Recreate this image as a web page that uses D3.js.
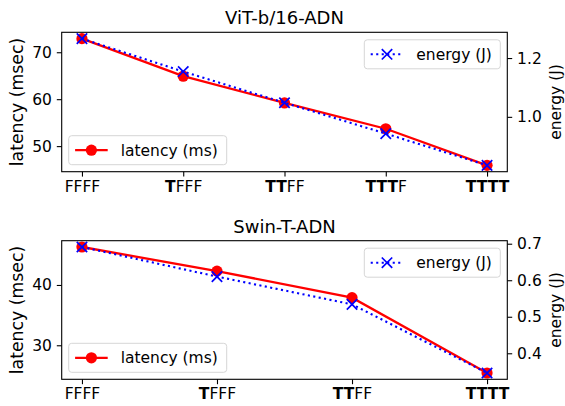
<!DOCTYPE html>
<html>
<head>
<meta charset="utf-8">
<script src="https://cdn.jsdelivr.net/npm/d3@7"></script>
<style>
  body { margin: 0; background: #fff; }
  text { font-family: "DejaVu Sans", sans-serif; fill: #000; }
</style>
</head>
<body>
<div id="chart"></div>
<script>
// data
var vitCats = ["FFFF", "TFFF", "TTFF", "TTTF", "TTTT"];
var vitLatency = [72.9, 64.9, 59.2, 53.7, 45.9];
var vitEnergy = [1.266, 1.154, 1.048, 0.943, 0.835];
var vitLatTicks = [50, 60, 70];
var vitEnergyTicks = [1.0, 1.2];

var swinCats = ["FFFF", "TFFF", "TTFF", "TTTT"];
var swinLatency = [46.3, 42.3, 37.9, 25.4];
var swinEnergy = [0.691, 0.610, 0.534, 0.346];
var swinLatTicks = [30, 40];
var swinEnergyTicks = [0.4, 0.5, 0.6, 0.7];

var W = 565, H = 406;
var tickFont = 15.5, titleFont = 18, labelFont = 17.3;

var svg = d3.select("#chart")
    .append("svg")
    .attr("width", W)
    .attr("height", H);

// matplotlib style 5% margins
function padded(vals) {
    var ext = d3.extent(vals);
    var m = (ext[1] - ext[0]) * 0.05;
    return [ext[0] - m, ext[1] + m];
}

function styleAxis(g) {
    g.select(".domain").remove();
    g.selectAll(".tick line").attr("stroke", "#000").attr("stroke-width", 1.1);
    g.selectAll(".tick text").style("font-size", tickFont + "px")
        .style("font-family", "DejaVu Sans, sans-serif").attr("fill", "#000");
}

function drawLegend(g, x, y, w, type, label) {
    var h = 29;
    g.append("rect")
        .attr("x", x).attr("y", y).attr("width", w).attr("height", h)
        .attr("rx", 3).attr("fill", "#fff").attr("fill-opacity", 0.8)
        .attr("stroke", "#d6d6d6").attr("stroke-width", 1);
    var cy = y + h / 2;
    var lx1 = x + 6.4, lx2 = x + 39, mx = (lx1 + lx2) / 2;
    if (type === "latency") {
        g.append("line").attr("x1", lx1).attr("x2", lx2).attr("y1", cy).attr("y2", cy)
            .attr("stroke", "red").attr("stroke-width", 2.3);
        g.append("circle").attr("cx", mx).attr("cy", cy).attr("r", 5.6).attr("fill", "red");
    } else {
        g.append("line").attr("x1", lx1).attr("x2", lx2).attr("y1", cy).attr("y2", cy)
            .attr("stroke", "blue").attr("stroke-width", 2.1)
            .attr("stroke-dasharray", "2.1,3.4");
        drawX(g, mx, cy);
    }
    g.append("text")
        .attr("x", x + 52).attr("y", cy)
        .attr("dy", "0.36em")
        .style("font-size", tickFont + "px")
        .text(label);
}

function drawX(g, cx, cy) {
    var s = 5.2;
    g.append("path")
        .attr("d", "M" + (cx - s) + "," + (cy - s) + "L" + (cx + s) + "," + (cy + s) +
            "M" + (cx - s) + "," + (cy + s) + "L" + (cx + s) + "," + (cy - s))
        .attr("stroke", "blue").attr("stroke-width", 1.7).attr("fill", "none");
}

function drawPanel(opts) {
    var left = 61.7, right = 507.3;
    var top = opts.top, bottom = opts.bottom;
    var n = opts.cats.length;
    var g = svg.append("g");

    var x = d3.scaleLinear()
        .domain([-0.05 * (n - 1), (n - 1) * 1.05])
        .range([left, right]);
    var yL = d3.scaleLinear().domain(padded(opts.latency)).range([bottom, top]);
    var yR = d3.scaleLinear().domain(padded(opts.energy)).range([bottom, top]);

    // title
    g.append("text")
        .attr("x", (left + right) / 2)
        .attr("y", top - 8)
        .attr("text-anchor", "middle")
        .style("font-size", titleFont + "px")
        .text(opts.title);

    // axes
    var ax = g.append("g")
        .attr("transform", "translate(0," + bottom + ")")
        .call(d3.axisBottom(x).tickValues(d3.range(n)).tickSize(4.9).tickPadding(4.2)
            .tickFormat(function (i) { return ""; }));
    styleAxis(ax);
    ax.selectAll(".tick text").each(function (i) {
        var lab = opts.cats[i];
        var bold = lab.match(/^T*/)[0];
        var t = d3.select(this);
        if (bold.length) t.append("tspan").style("font-weight", "bold").text(bold);
        if (bold.length < lab.length) t.append("tspan").text(lab.slice(bold.length));
    });

    var ayL = g.append("g")
        .attr("transform", "translate(" + left + ",0)")
        .call(d3.axisLeft(yL).tickValues(opts.latTicks).tickSize(4.9).tickPadding(4.9)
            .tickFormat(d3.format("d")));
    styleAxis(ayL);

    var ayR = g.append("g")
        .attr("transform", "translate(" + right + ",0)")
        .call(d3.axisRight(yR).tickValues(opts.energyTicks).tickSize(4.9).tickPadding(4.9)
            .tickFormat(d3.format(".1f")));
    styleAxis(ayR);

    // axis labels
    g.append("text")
        .attr("transform", "translate(17," + (top + bottom) / 2 + ") rotate(-90)")
        .attr("text-anchor", "middle")
        .attr("dy", "0.36em")
        .style("font-size", labelFont + "px")
        .text("latency (msec)");
    g.append("text")
        .attr("transform", "translate(" + (W - 10) + "," + (top + bottom) / 2 + ") rotate(-90)")
        .attr("text-anchor", "middle")
        .attr("dy", "0.36em")
        .style("font-size", tickFont + "px")
        .text("energy (J)");

    // latency line (ax1)
    var lineL = d3.line()
        .x(function (d, i) { return x(i); })
        .y(function (d) { return yL(d); });
    g.append("path")
        .datum(opts.latency)
        .attr("d", lineL)
        .attr("fill", "none").attr("stroke", "red").attr("stroke-width", 2.3);
    g.selectAll(".pt-lat")
        .data(opts.latency)
        .enter()
        .append("circle")
        .attr("class", "pt-lat")
        .attr("cx", function (d, i) { return x(i); })
        .attr("cy", function (d) { return yL(d); })
        .attr("r", 5.6)
        .attr("fill", "red");

    drawLegend(g, left + 7, bottom - 7 - 29, 158, "latency", "latency (ms)");

    // energy line (twin axis, drawn on top)
    var lineR = d3.line()
        .x(function (d, i) { return x(i); })
        .y(function (d) { return yR(d); });
    g.append("path")
        .datum(opts.energy)
        .attr("d", lineR)
        .attr("fill", "none").attr("stroke", "blue").attr("stroke-width", 2.1)
        .attr("stroke-dasharray", "2.1,3.4");
    opts.energy.forEach(function (d, i) {
        drawX(g, x(i), yR(d));
    });

    drawLegend(g, right - 7 - 136, top + 7.5, 136, "energy", "energy (J)");

    // frame
    g.append("rect")
        .attr("x", left).attr("y", top)
        .attr("width", right - left).attr("height", bottom - top)
        .attr("fill", "none").attr("stroke", "#000").attr("stroke-width", 1.1);
}

drawPanel({
    title: "ViT-b/16-ADN", top: 32.3, bottom: 171.7,
    cats: vitCats, latency: vitLatency, energy: vitEnergy,
    latTicks: vitLatTicks, energyTicks: vitEnergyTicks
});

drawPanel({
    title: "Swin-T-ADN", top: 240.7, bottom: 379.3,
    cats: swinCats, latency: swinLatency, energy: swinEnergy,
    latTicks: swinLatTicks, energyTicks: swinEnergyTicks
});
</script>
</body>
</html>
